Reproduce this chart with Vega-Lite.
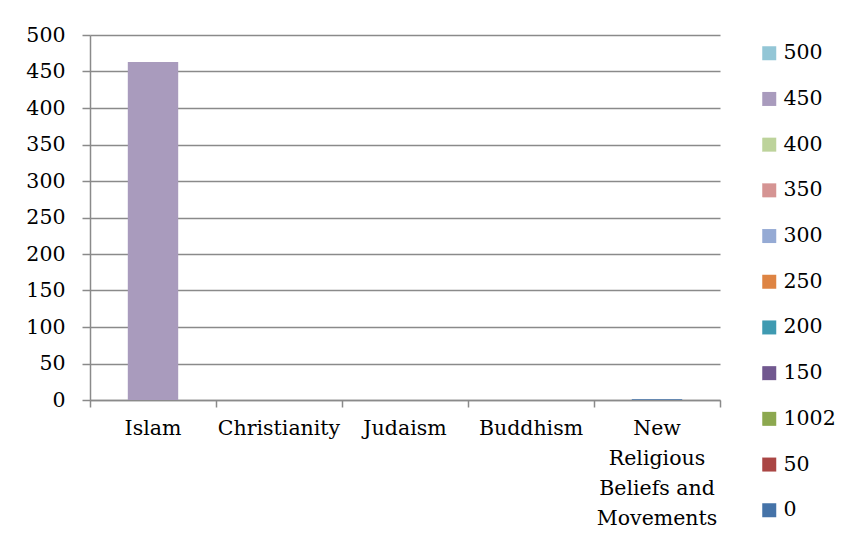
{
  "$schema": "https://vega.github.io/schema/vega-lite/v6.json",
  "autosize": {"type": "none"},
  "padding": {"left": 90, "top": 35, "right": 129, "bottom": 148},
  "width": 630,
  "height": 365,
  "background": "white",
  "data": {
    "values": [
      {"religion": "Islam", "series": "450", "value": 463},
      {"religion": "Christianity", "series": "450", "value": 0},
      {"religion": "Judaism", "series": "450", "value": 0},
      {"religion": "Buddhism", "series": "450", "value": 0},
      {"religion": "New Religious Beliefs and Movements", "series": "0", "value": 1}
    ]
  },
  "mark": {"type": "bar", "width": {"band": 0.4}},
  "encoding": {
    "x": {
      "field": "religion",
      "type": "nominal",
      "sort": ["Islam", "Christianity", "Judaism", "Buddhism", "New Religious Beliefs and Movements"],
      "scale": {"paddingInner": 0, "paddingOuter": 0},
      "axis": {
        "title": null,
        "labelAngle": 0,
        "bandPosition": 1,
        "tickExtra": true,
        "tickSize": 7,
        "tickWidth": 1.5,
        "tickColor": "#8a8a8a",
        "domainColor": "#8a8a8a",
        "domainWidth": 1.5,
        "labelPadding": 11,
        "labelFont": "DejaVu Serif",
        "labelFontSize": 20.5,
        "labelColor": "#000000",
        "labelLineHeight": 30,
        "labelLimit": 200,
        "labelExpr": "datum.value == 'New Religious Beliefs and Movements' ? ['New', 'Religious', 'Beliefs and', 'Movements'] : datum.value"
      }
    },
    "y": {
      "field": "value",
      "type": "quantitative",
      "stack": "zero",
      "scale": {"domain": [0, 500], "nice": false},
      "axis": {
        "title": null,
        "values": [0, 50, 100, 150, 200, 250, 300, 350, 400, 450, 500],
        "tickSize": 8,
        "tickWidth": 1.5,
        "tickColor": "#8a8a8a",
        "domainColor": "#8a8a8a",
        "domainWidth": 1.5,
        "gridColor": "#8a8a8a",
        "gridWidth": 1.5,
        "gridOpacity": 1,
        "labelPadding": 17,
        "labelFont": "DejaVu Serif",
        "labelFontSize": 20.5,
        "labelColor": "#000000"
      }
    },
    "color": {
      "field": "series",
      "type": "nominal",
      "scale": {
        "domain": ["500", "450", "400", "350", "300", "250", "200", "150", "1002", "50", "0"],
        "range": ["#93C6D6", "#A99BBD", "#BDD39B", "#D59493", "#95AAD4", "#DE8443", "#3F9AB1", "#71588F", "#8CA84F", "#AA4644", "#4573A8"]
      },
      "legend": {
        "title": null,
        "orient": "none",
        "legendX": 669,
        "legendY": 8,
        "symbolType": "square",
        "symbolSize": 196,
        "symbolStrokeWidth": 0,
        "labelFont": "DejaVu Serif",
        "labelFontSize": 20.5,
        "labelColor": "#000000",
        "labelOffset": 4,
        "rowPadding": 24.7,
        "padding": 0
      }
    }
  },
  "config": {
    "view": {"stroke": null},
    "axis": {"grid": false},
    "axisY": {"grid": true}
  }
}
